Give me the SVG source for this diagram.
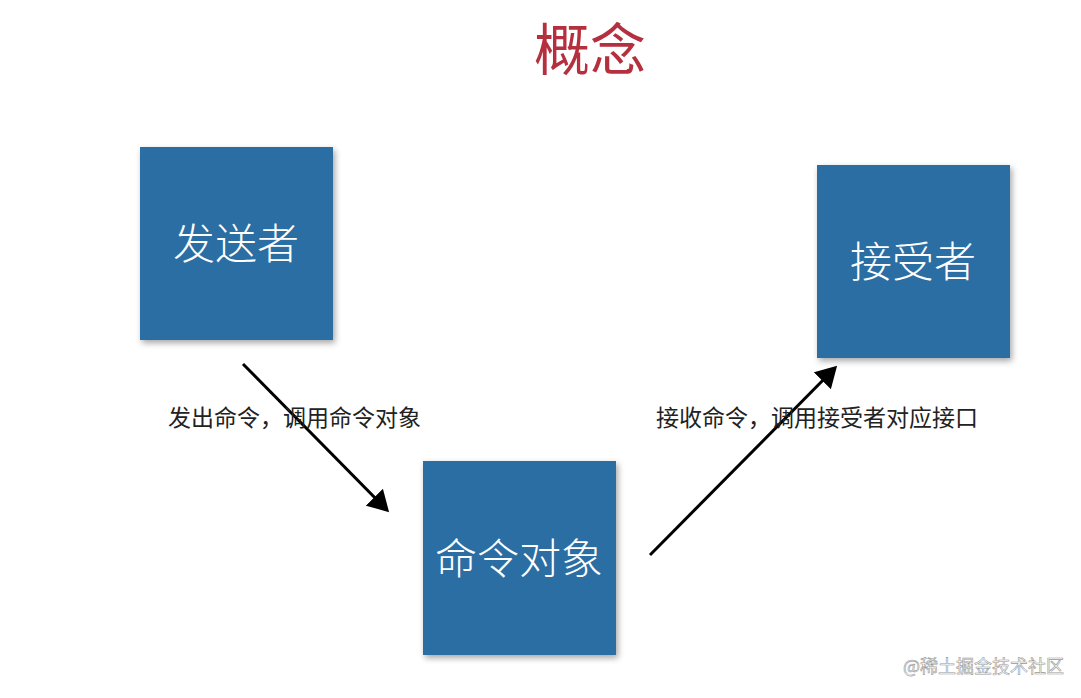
<svg xmlns="http://www.w3.org/2000/svg" width="1081" height="698" viewBox="0 0 1081 698">
<style>
.box{fill:#2b6ea4;filter:drop-shadow(2px 3px 3px rgba(0,0,0,0.35))}
.bt{font-family:"Noto Sans CJK SC",sans-serif;font-size:42px;fill:#fff;text-anchor:middle;font-weight:300}
.lbl{font-family:"Noto Sans CJK SC",sans-serif;font-size:23px;fill:#222}
.arr{stroke:#000;stroke-width:3;marker-end:url(#ah)}
</style>
<defs><marker id="ah" markerWidth="8" markerHeight="8" refX="6" refY="4" orient="auto" markerUnits="strokeWidth"><path d="M0,0 L7,4 L0,8 Z" fill="#000"/></marker></defs>
<rect width="1081" height="698" fill="#fff"/>
<text x="590" y="70" font-family="Noto Sans CJK SC,sans-serif" font-size="56" fill="#b5303e" text-anchor="middle">概念</text>
<g id="sender"><rect class="box" x="140" y="147" width="193" height="193"/><text class="bt" x="236" y="259">发送者</text></g>
<g id="receiver"><rect class="box" x="817" y="165" width="193" height="193"/><text class="bt" x="913" y="277">接受者</text></g>
<g id="command"><rect class="box" x="423" y="461" width="193" height="194"/><text class="bt" x="519" y="574">命令对象</text></g>
<g id="connectors">
<line class="arr" x1="243" y1="364" x2="387" y2="510"/>
<line class="arr" x1="650" y1="555" x2="835" y2="368"/>
</g>
<text class="lbl" x="168" y="426">发出命令，调用命令对象</text>
<text class="lbl" x="656" y="426">接收命令，调用接受者对应接口</text>
<text x="903" y="673" font-family="Noto Sans CJK SC,sans-serif" font-size="18" fill="#fff" stroke="#999" stroke-width="0.6">@稀土掘金技术社区</text>
</svg>
